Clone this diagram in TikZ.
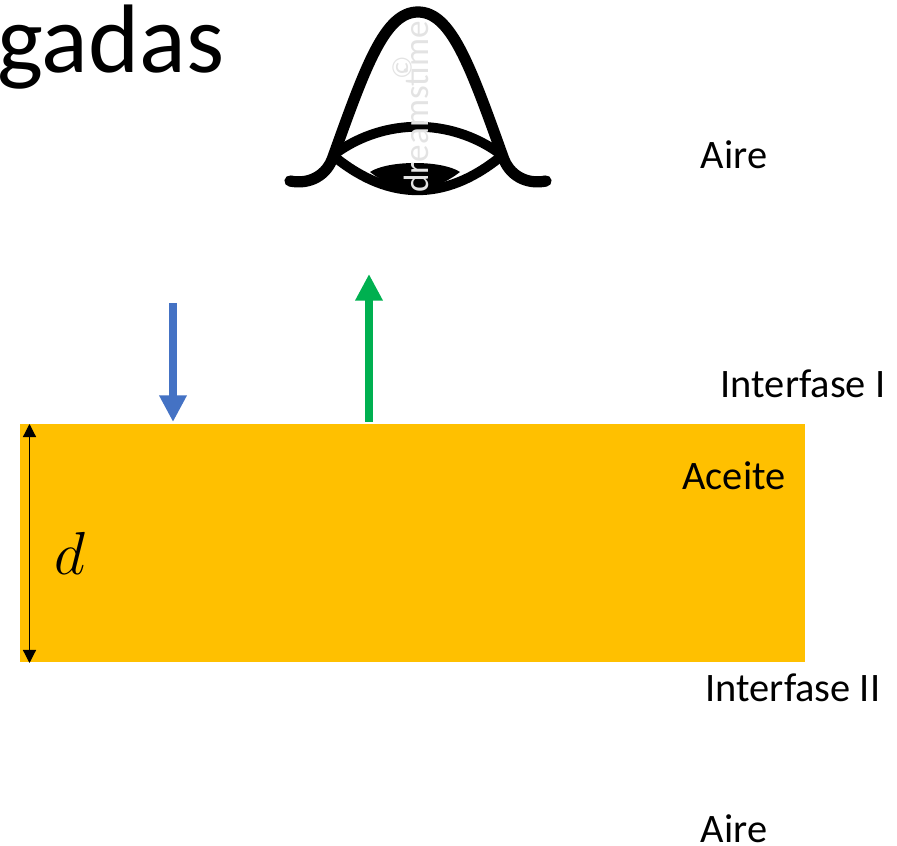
\documentclass[tikz,border=0pt]{standalone}
\usepackage{fontspec}
\setmainfont{Carlito}
\usetikzlibrary{arrows.meta}
\definecolor{aceite}{HTML}{FFC000}
\definecolor{azul}{HTML}{4472C4}
\definecolor{verde}{HTML}{00B050}
\tikzset{
  etiqueta/.style={font=\fontsize{11.5}{13}\selectfont, text=black, inner sep=0pt},
  flecha/.style={line width=2.2pt, -{Triangle[width=7.4pt,length=7.6pt]}},
  ojo/.style={line width=3.2pt, line cap=round},
  parpado/.style={line width=2.8pt},
  marca/.style={text=black!11, inner sep=0pt}
}
\begin{document}
\begin{tikzpicture}
    \useasboundingbox (0,0) rectangle (8.97,8.45);
    % Capa de aceite
    \node[fill=aceite, minimum width=7.85cm, minimum height=2.38cm, inner sep=0pt] (capa) at (4.125,3.02) {};
    % Ojo
    \draw[ojo] (2.9,6.64) .. controls (3.1,6.6) and (3.27,6.7) .. (3.33,6.88)
        .. controls (3.66,7.8) and (3.85,8.33) .. (4.18,8.33)
        .. controls (4.51,8.33) and (4.7,7.8) .. (5.03,6.88)
        .. controls (5.09,6.7) and (5.26,6.6) .. (5.46,6.64);
    \draw[parpado] (3.36,6.92) .. controls (3.85,7.27) and (4.5,7.27) .. (4.99,6.92);
    \draw[parpado] (3.36,6.87) .. controls (3.9,6.44) and (4.45,6.44) .. (4.99,6.87);
    \fill (3.7,6.73) .. controls (3.88,6.85) and (4.42,6.85) .. (4.6,6.73)
        .. controls (4.3,6.5) and (4.0,6.5) .. (3.7,6.73) -- cycle;
    % Marca de agua
    \node[marca, rotate=90, font=\fontsize{10}{12}\selectfont] (sello) at (4.16,7.38) {dreamstime};
    \node[marca, rotate=90, font=\fontsize{8}{9}\selectfont] (derechos) at (4.02,7.77) {©};
    % Flechas
    \coordinate (incide) at (1.73,5.42);
    \coordinate (llega) at (1.73,4.23);
    \coordinate (sale) at (3.69,4.23);
    \coordinate (refleja) at (3.69,5.71);
    \draw[flecha, azul] (incide) -- (llega);
    \draw[flecha, verde] (sale) -- (refleja);
    % Espesor
    \coordinate (arriba) at (0.295,4.21);
    \coordinate (abajo) at (0.295,1.82);
    \draw[line width=0.35pt, {Triangle[width=3.7pt,length=3.7pt]}-{Triangle[width=3.7pt,length=3.7pt]}] (arriba) -- (abajo);
    \node[inner sep=0pt, font=\fontsize{19}{20}\selectfont] (espesor) at (0.7,2.92) {$d$};
    % Etiquetas
    \node[inner sep=0pt, font=\fontsize{27.7}{30}\selectfont, anchor=west] (titulo) at (-0.03,7.98) {gadas};
    \node[etiqueta] (aire1) at (7.34,6.9) {Aire};
    \node[etiqueta] (inter1) at (8.03,4.61) {Interfase I};
    \node[etiqueta] (acei) at (7.34,3.69) {Aceite};
    \node[etiqueta] (inter2) at (7.93,1.57) {Interfase II};
    \node[etiqueta] (aire2) at (7.34,0.16) {Aire};
\end{tikzpicture}
\end{document}
